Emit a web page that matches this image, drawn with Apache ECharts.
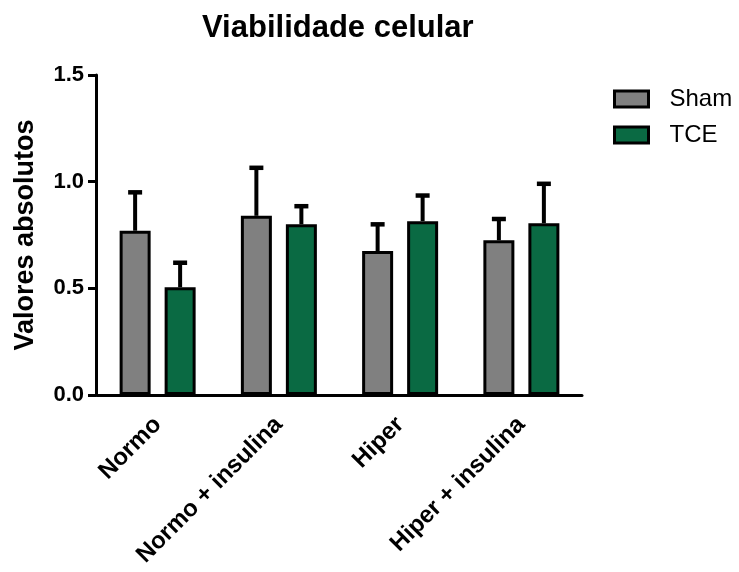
<!DOCTYPE html>
<html>
<head>
<meta charset="utf-8">
<script src="https://cdn.jsdelivr.net/npm/echarts@6/dist/echarts.min.js"></script>
<style>
  html, body { margin: 0; padding: 0; background: #fff; }
  #chart { width: 739px; height: 572px; }
</style>
</head>
<body>
<div id="chart"></div>
<script>
// Groups on the x axis
const categories = ['Normo', 'Normo + insulina', 'Hiper', 'Hiper + insulina'];
// Mean values per group
const shamMean = [0.77, 0.84, 0.675, 0.725];
const tceMean = [0.505, 0.80, 0.815, 0.805];
// Upper error (added to the mean)
const shamErr = [0.18, 0.225, 0.125, 0.10];
const tceErr = [0.115, 0.085, 0.12, 0.185];
// Y axis ticks
const yTicks = [0, 0.5, 1.0, 1.5];

const FONT = '"Liberation Sans", Arial, sans-serif';
const BAR_W = 31;
const BAR_GAP = 14;

// Draws an upward error whisker with a cap, shifted to sit over its bar
function errorRenderer(side) {
  return function (params, api) {
    const idx = api.value(0);
    const mean = api.value(1);
    const top = api.value(2);
    const dx = side * (BAR_W + BAR_GAP) / 2;
    const base = api.coord([idx, mean]);
    const hi = api.coord([idx, top]);
    const x = base[0] + dx;
    const capHalf = 7;
    return {
      type: 'group',
      children: [
        { type: 'line', shape: { x1: x, y1: base[1], x2: x, y2: hi[1] },
          style: { stroke: '#000', lineWidth: 4 } },
        { type: 'line', shape: { x1: x - capHalf, y1: hi[1], x2: x + capHalf, y2: hi[1] },
          style: { stroke: '#000', lineWidth: 4.5 } }
      ]
    };
  };
}

function errData(means, errs) {
  return means.map((m, i) => [i, m, m + errs[i]]);
}

const chart = echarts.init(document.getElementById('chart'), null, { renderer: 'canvas' });
chart.setOption({
  animation: false,
  backgroundColor: '#fff',
  title: {
    text: 'Viabilidade celular',
    left: 202,
    top: 13,
    padding: 0,
    textStyle: { fontFamily: FONT, fontSize: 31, fontWeight: 'bold', color: '#000' }
  },
  legend: {
    orient: 'vertical',
    left: 613,
    top: 87,
    padding: 0,
    itemWidth: 34,
    itemHeight: 16,
    itemGap: 12,
    icon: 'rect',
    data: ['Sham', 'TCE'],
    itemStyle: { borderColor: '#000', borderWidth: 3 },
    textStyle: { fontFamily: FONT, fontSize: 24, color: '#000', padding: [0, 0, 0, 16] }
  },
  grid: { left: 97, right: 157, top: 75, bottom: 177, containLabel: false },
  xAxis: {
    type: 'category',
    data: categories,
    axisLine: { lineStyle: { color: '#000', width: 3 } },
    axisTick: { alignWithLabel: true, length: 7, lineStyle: { color: '#000', width: 3 } },
    axisLabel: {
      rotate: 45, margin: 26, color: '#000',
      fontFamily: FONT, fontSize: 24, fontWeight: 'bold', interval: 0
    }
  },
  yAxis: {
    type: 'value',
    min: yTicks[0],
    max: yTicks[yTicks.length - 1],
    interval: 0.5,
    offset: 1,
    name: 'Valores absolutos',
    nameLocation: 'middle',
    nameGap: 57,
    nameTextStyle: { fontFamily: FONT, fontSize: 27, fontWeight: 'bold', color: '#000' },
    splitLine: { show: false },
    axisLine: { show: true, lineStyle: { color: '#000', width: 3 } },
    axisTick: { show: true, length: 8, lineStyle: { color: '#000', width: 3 } },
    axisLabel: {
      margin: 12, color: '#000', fontFamily: FONT, fontSize: 22, fontWeight: 'bold',
      formatter: v => v.toFixed(1)
    }
  },
  series: [
    {
      name: 'Sham', type: 'bar', data: shamMean,
      barWidth: BAR_W, barGap: (BAR_GAP / BAR_W * 100) + '%',
      itemStyle: { color: '#808080', borderColor: '#000', borderWidth: 3 },
      z: 2
    },
    {
      name: 'TCE', type: 'bar', data: tceMean,
      barWidth: BAR_W,
      itemStyle: { color: '#0a6a43', borderColor: '#000', borderWidth: 3 },
      z: 2
    },
    {
      type: 'custom', renderItem: errorRenderer(-1),
      data: errData(shamMean, shamErr), z: 3, silent: true
    },
    {
      type: 'custom', renderItem: errorRenderer(1),
      data: errData(tceMean, tceErr), z: 3, silent: true
    }
  ]
});
</script>
</body>
</html>
